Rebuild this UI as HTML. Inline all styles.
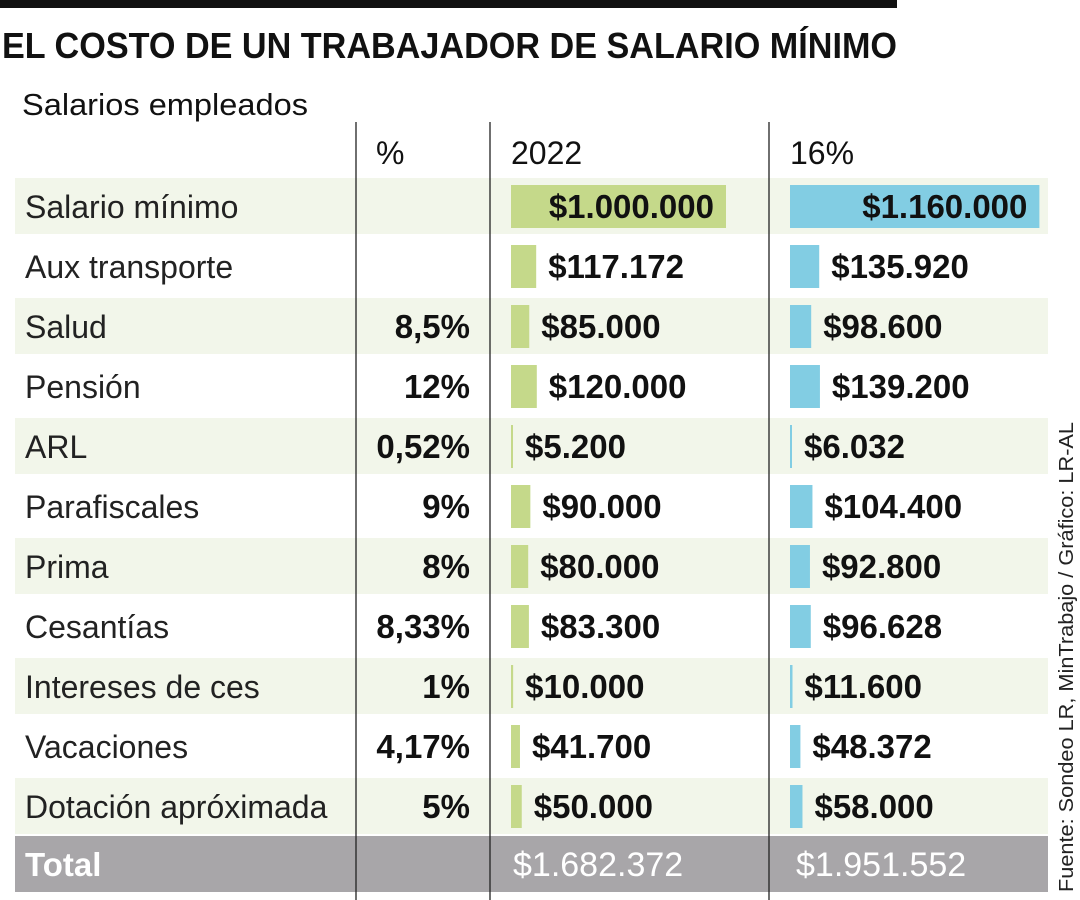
<!DOCTYPE html>
<html><head><meta charset="utf-8"><style>
body{margin:0;background:#fff;}
svg{display:block;font-family:"Liberation Sans",sans-serif;}
</style></head><body>
<svg id="chart" width="1080" height="900" viewBox="0 0 1080 900" xmlns="http://www.w3.org/2000/svg">
<rect x="0" y="0" width="897" height="8" fill="#111"/>
<text x="2" y="58" font-size="36" font-weight="bold" fill="#111" textLength="895" lengthAdjust="spacingAndGlyphs">EL COSTO DE UN TRABAJADOR DE SALARIO MÍNIMO</text>
<text x="22" y="115" font-size="31" fill="#111" textLength="286" lengthAdjust="spacingAndGlyphs">Salarios empleados</text>
<g id="rows"></g>
<text x="376" y="164" font-size="32" fill="#111">%</text>
<text x="511" y="164" font-size="32" fill="#111">2022</text>
<text x="790" y="164" font-size="32" fill="#111">16%</text>
<line x1="356" y1="122" x2="356" y2="900" stroke="#222" stroke-width="1.3"/>
<line x1="490" y1="122" x2="490" y2="900" stroke="#222" stroke-width="1.3"/>
<line x1="769" y1="122" x2="769" y2="900" stroke="#222" stroke-width="1.3"/>
<text transform="translate(1073,892) rotate(-90)" font-size="20" fill="#222" textLength="470" lengthAdjust="spacingAndGlyphs">Fuente: Sondeo LR, MinTrabajo / Gráfico: LR-AL</text>
</svg>
<script>
const categories=["Salario mínimo","Aux transporte","Salud","Pensión","ARL","Parafiscales","Prima","Cesantías","Intereses de ces","Vacaciones","Dotación apróximada"];
const percents=["","","8,5%","12%","0,52%","9%","8%","8,33%","1%","4,17%","5%"];
const values2022=[1000000,117172,85000,120000,5200,90000,80000,83300,10000,41700,50000];
const values16=[1160000,135920,98600,139200,6032,104400,92800,96628,11600,48372,58000];
const totalLabels=["$1.682.372","$1.951.552"];
const NS="http://www.w3.org/2000/svg";
const g=document.getElementById('rows');
const rowY=i=>178+i*60;
const xScale=v=>v*215/1000000;
function fmt(v){return "$"+v.toString().replace(/\B(?=(\d{3})+(?!\d))/g,".");}
function mk(tag,attrs){const e=document.createElementNS(NS,tag);for(const k in attrs)e.setAttribute(k,attrs[k]);g.appendChild(e);return e;}
categories.forEach((c,i)=>{
  const y=rowY(i);
  if(i%2===0){const bg=mk('rect',{x:15,y:y,width:1033,height:56,fill:'#f2f6ea'});
    
    }
  const t=mk('text',{x:25,y:y+40,'font-size':32,fill:'#222'});t.textContent=c;
  
  
  if(percents[i]){const p=mk('text',{x:470,y:y+40,'font-size':33,'font-weight':'bold','text-anchor':'end',fill:'#111'});p.textContent=percents[i];
    
    }
  [[values2022,511,'#c5d98a','bar-2022'],[values16,790,'#82cde3','bar-16-percent']].forEach(([arr,x0,col,nm])=>{
    const w=Math.max(2,xScale(arr[i]));
    const b=mk('rect',{x:x0,y:y+7,width:w,height:43,fill:col});
    
    
    const inside=w>150;
    const lt=mk('text',{x:inside?x0+w-12:x0+w+12,y:y+40,'font-size':33,'font-weight':'bold',fill:'#111','text-anchor':inside?'end':'start'});
    lt.textContent=fmt(arr[i]);
    
    
  });
});
const ty=836;
const tr=mk('rect',{x:15,y:ty,width:1033,height:56,fill:'#a8a6a9'});


const tl=mk('text',{x:25,y:ty+40,'font-size':33,'font-weight':'bold',fill:'#fff'});tl.textContent="Total";


[513,796].forEach((x,k)=>{const e=mk('text',{x:x,y:ty+40,'font-size':34,fill:'#fff'});e.textContent=totalLabels[k];
  
  });
</script>
</body></html>
